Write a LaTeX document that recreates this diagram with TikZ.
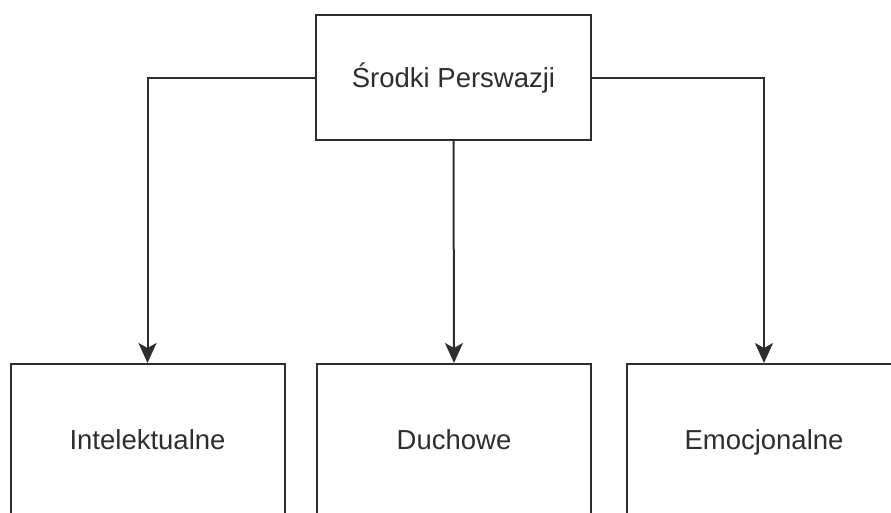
\documentclass[tikz,border=0pt]{standalone}
\usepackage{fontspec}
\setmainfont{Liberation Sans}
\usepackage{xcolor}
\usetikzlibrary{arrows.meta}
\definecolor{ink}{HTML}{2E2E2E}
\tikzset{
    box/.style={draw=ink, line width=2pt, fill=white, rectangle, inner sep=0pt,
        text=ink, font=\fontsize{27.5}{32}\selectfont, text height=19.5pt, text depth=0pt},
    topbox/.style={box, minimum width=275pt, minimum height=125pt},
    leafbox/.style={box, minimum width=274pt, minimum height=152pt},
    link/.style={draw=ink, line width=2pt, -{Stealth[length=20pt,width=18pt,inset=5pt]}}
}

\begin{document}
\begin{tikzpicture}[x=1pt,y=-1pt]
            \useasboundingbox (0,0) rectangle (891,512);
            \clip (0,0) rectangle (891,512);
            \node[topbox] (persw) at (453.5,77.5) {Środki Perswazji};
            \node[leafbox] (intel) at (147.5,440) {Intelektualne};
            \node[leafbox] (duch) at (454,440) {Duchowe};
            \node[leafbox] (emoc) at (764,440) {Emocjonalne};

            \draw[link] (persw.west) -| (intel.north);
            \draw[link] (persw.south) -- (duch.north);
            \draw[link] (persw.east) -| (emoc.north);
        \end{tikzpicture}
\end{document}
